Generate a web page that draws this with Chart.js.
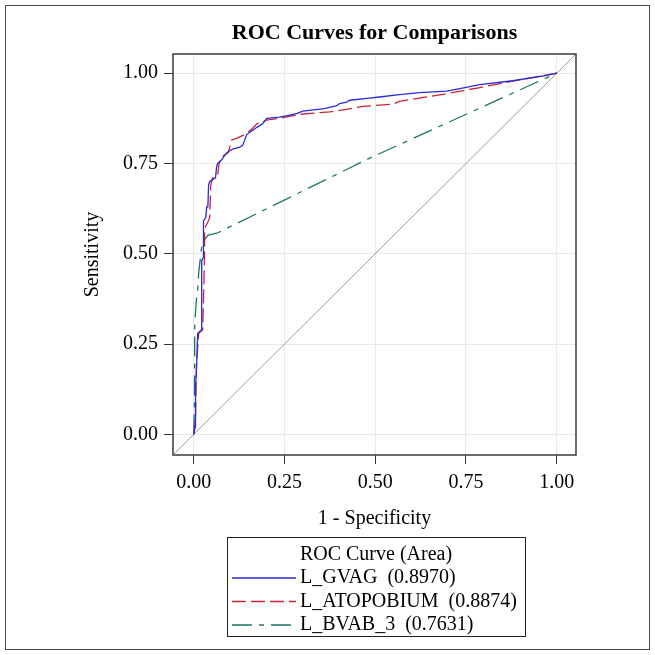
<!DOCTYPE html>
<html>
<head>
<meta charset="utf-8">
<script src="https://cdn.jsdelivr.net/npm/chart.js@4"></script>
<style>
  html, body { margin: 0; padding: 0; background: #fff; }
  #wrap { width: 655px; height: 655px; }
</style>
</head>
<body>
<div id="wrap"><canvas id="rocChart" width="655" height="655"></canvas></div>
<script>
// values (1 - specificity, sensitivity)
const gvagX = [0, 0.004, 0.005, 0.008, 0.011, 0.022, 0.022, 0.027, 0.027, 0.033, 0.036, 0.039, 0.041, 0.044, 0.060, 0.063, 0.066, 0.077, 0.091, 0.107, 0.127, 0.135, 0.146, 0.160, 0.174, 0.190, 0.201, 0.237, 0.284, 0.300, 0.360, 0.394, 0.402, 0.421, 0.430, 0.477, 0.512, 0.560, 0.623, 0.697, 0.733, 0.788, 0.879, 0.972, 1];
const gvagY = [0, 0.020, 0.130, 0.190, 0.280, 0.290, 0.480, 0.490, 0.590, 0.600, 0.630, 0.630, 0.690, 0.700, 0.710, 0.740, 0.750, 0.760, 0.780, 0.790, 0.795, 0.800, 0.830, 0.840, 0.850, 0.860, 0.875, 0.878, 0.888, 0.895, 0.902, 0.910, 0.916, 0.920, 0.925, 0.930, 0.934, 0.940, 0.946, 0.950, 0.957, 0.968, 0.979, 0.994, 1];

const atopX = [0, 0.005, 0.008, 0.014, 0.025, 0.030, 0.030, 0.040, 0.044, 0.047, 0.052, 0.066, 0.070, 0.080, 0.095, 0.105, 0.120, 0.140, 0.160, 0.174, 0.190, 0.200, 0.237, 0.292, 0.375, 0.421, 0.466, 0.548, 0.567, 0.678, 0.788, 0.879, 1];
const atopY = [0, 0.050, 0.200, 0.280, 0.290, 0.500, 0.570, 0.590, 0.600, 0.690, 0.710, 0.720, 0.750, 0.770, 0.780, 0.815, 0.820, 0.830, 0.845, 0.860, 0.865, 0.870, 0.875, 0.886, 0.893, 0.900, 0.908, 0.914, 0.922, 0.940, 0.960, 0.978, 1];

const bvabX = [0, 0.002, 0.003, 0.008, 0.011, 0.014, 0.022, 0.030, 0.040, 0.066, 0.485, 1];
const bvabY = [0, 0.090, 0.310, 0.380, 0.400, 0.450, 0.520, 0.540, 0.552, 0.558, 0.765, 1];

const seriesNames = ['L_GVAG', 'L_ATOPOBIUM', 'L_BVAB_3'];
const areas = [0.8970, 0.8874, 0.7631];
const tickValues = [0, 0.25, 0.5, 0.75, 1];
const axisMin = -0.057, axisMax = 1.053;

const colors = ['#2a2ad6', '#c8243a', '#1d7768'];
const dashes = [[], [14, 5], [20, 7, 5, 7]];

const toPoints = (xs, ys) => xs.map((x, i) => ({ x: x, y: ys[i] }));
const serif = 'Liberation Serif, Times New Roman, serif';

const frameAndLegend = {
  id: 'frameAndLegend',
  afterDraw(chart) {
    const c = chart.ctx;
    const a = chart.chartArea;
    c.save();
    // plot frame
    c.strokeStyle = '#3a3a3a';
    c.lineWidth = 1.5;
    c.strokeRect(a.left, a.top, a.right - a.left, a.bottom - a.top);
    // outer border
    c.strokeStyle = '#4a4a4a';
    c.lineWidth = 1;
    c.strokeRect(5.5, 5.5, 644, 644);
    // legend box
    c.strokeStyle = '#222';
    c.strokeRect(227.5, 537.5, 298, 99);
    c.fillStyle = '#000';
    c.font = '20px ' + serif;
    c.textBaseline = 'middle';
    c.textAlign = 'center';
    c.fillText('ROC Curve (Area)', 376, 555);
    c.textAlign = 'left';
    seriesNames.forEach((name, i) => {
      const y = 578 + i * 23.5;
      c.strokeStyle = colors[i];
      c.lineWidth = 1.3;
      c.setLineDash(dashes[i]);
      c.beginPath();
      c.moveTo(232, y);
      c.lineTo(296, y);
      c.stroke();
      c.setLineDash([]);
      c.fillText(name + '  (' + areas[i].toFixed(4) + ')', 300, y);
    });
    c.restore();
  }
};

const ctx = document.getElementById('rocChart').getContext('2d');
const rocChart = new Chart(ctx, {
  type: 'scatter',
  data: {
    datasets: [
      { label: seriesNames[0], data: toPoints(gvagX, gvagY), borderColor: colors[0], borderDash: dashes[0] },
      { label: seriesNames[1], data: toPoints(atopX, atopY), borderColor: colors[1], borderDash: dashes[1] },
      { label: seriesNames[2], data: toPoints(bvabX, bvabY), borderColor: colors[2], borderDash: dashes[2] },
      { label: 'chance', data: [{ x: axisMin, y: axisMin }, { x: axisMax, y: axisMax }], borderColor: '#9a9a9a', borderWidth: 1 }
    ].map(d => Object.assign({ showLine: true, pointRadius: 0, borderWidth: 1.3, tension: 0, fill: false }, d))
  },
  options: {
    responsive: false,
    animation: false,
    layout: { padding: { left: 5, right: 79, top: 0, bottom: 123 } },
    plugins: {
      legend: { display: false },
      tooltip: { enabled: false },
      title: {
        display: true,
        text: 'ROC Curves for Comparisons',
        fullSize: false,
        color: '#000',
        font: { family: serif, size: 22, weight: 'bold', lineHeight: 1.2 },
        padding: { top: 20, bottom: 7.6 }
      }
    },
    scales: {
      x: {
        type: 'linear',
        min: axisMin,
        max: axisMax,
        afterBuildTicks: s => { s.ticks = tickValues.map(v => ({ value: v })); },
        afterFit: s => { s.height = 77; },
        border: { display: false },
        grid: { color: '#e9e9e9', tickColor: '#333', tickLength: 9, lineWidth: 1 },
        ticks: {
          color: '#000',
          padding: 7,
          maxRotation: 0,
          font: { family: serif, size: 20 },
          callback: v => v.toFixed(2)
        },
        title: {
          display: true,
          text: '1 - Specificity',
          color: '#000',
          font: { family: serif, size: 20 },
          padding: { top: 0, bottom: 1 }
        }
      },
      y: {
        type: 'linear',
        min: axisMin,
        max: axisMax,
        afterBuildTicks: s => { s.ticks = tickValues.map(v => ({ value: v })); },
        afterFit: s => { s.width = 168; },
        border: { display: false },
        grid: { color: '#e9e9e9', tickColor: '#333', tickLength: 9, lineWidth: 1 },
        ticks: {
          color: '#000',
          padding: 6,
          font: { family: serif, size: 20 },
          callback: v => v.toFixed(2)
        },
        title: {
          display: true,
          text: 'Sensitivity',
          color: '#000',
          font: { family: serif, size: 20 },
          padding: { top: 76, bottom: 0 }
        }
      }
    }
  },
  plugins: [frameAndLegend]
});
</script>
</body>
</html>
